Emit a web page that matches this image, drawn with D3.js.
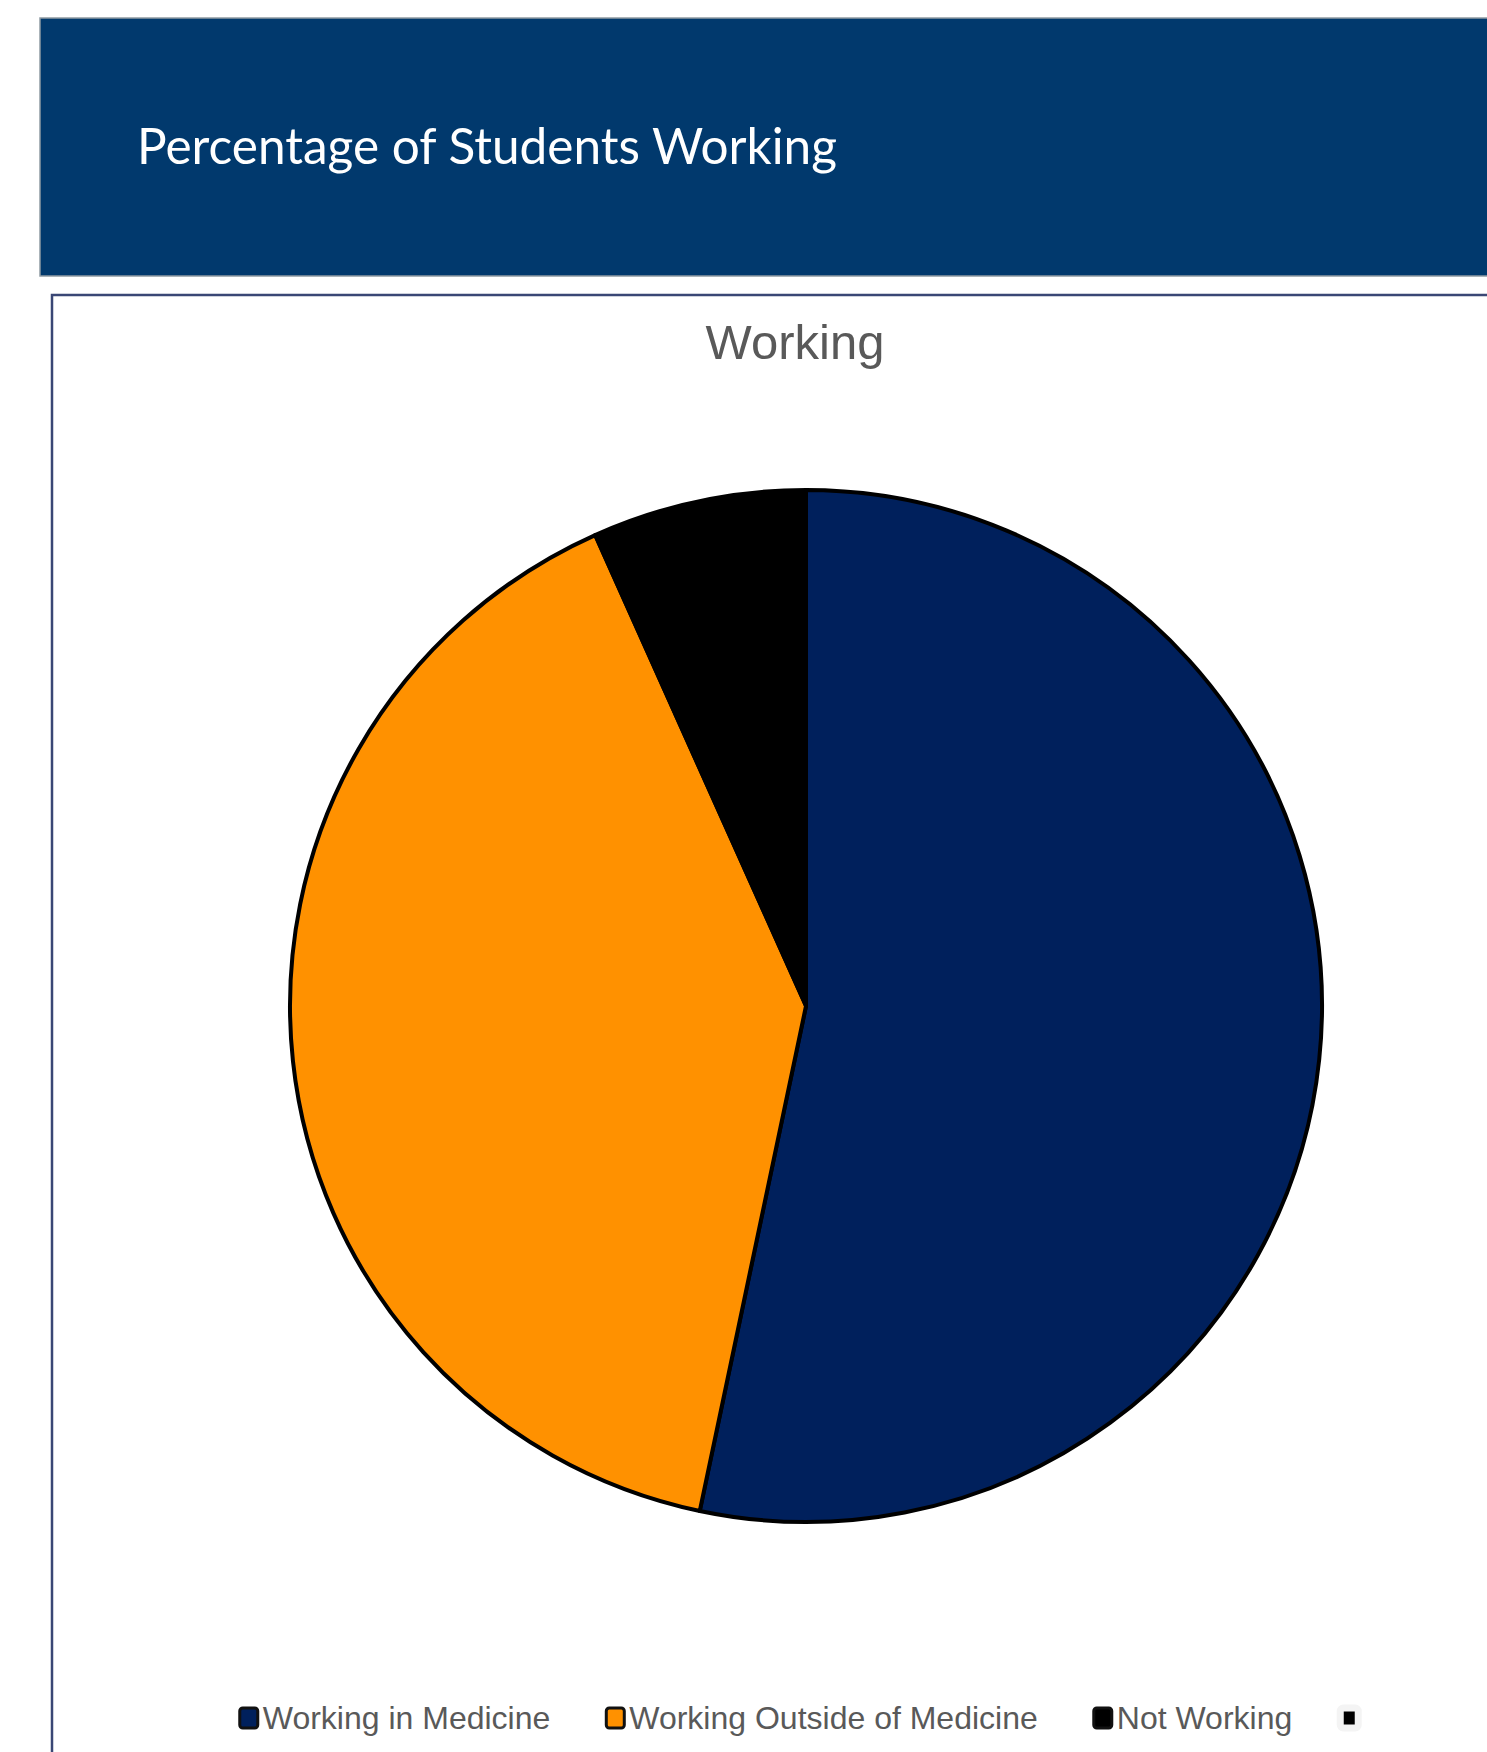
<!DOCTYPE html>
<html>
<head>
<meta charset="utf-8">
<script src="https://cdn.jsdelivr.net/npm/d3@7"></script>
<style>
  html, body { margin: 0; padding: 0; background: #fff; }
  svg { display: block; }
</style>
</head>
<body>
<svg id="chart" width="1487" height="1752"></svg>
<script>
// Share of students by working status (percent)
const categories = ["Working in Medicine", "Working Outside of Medicine", "Not Working", ""];
const values = [53.3, 40.0, 6.7, 0];
const colors = ["#00205c", "#ff9100", "#000000", "#000000"];
const pageTitle = "Percentage of Students Working";
const chartTitle = "Working";

const svg = d3.select("#chart");
const W = 1487, H = 1752;

// Banner
svg.append("rect")
  .attr("x", 40).attr("y", 18).attr("width", W).attr("height", 258)
  .attr("fill", "#01396d").attr("stroke", "#8f9aa3").attr("stroke-width", 1.5);

svg.append("text")
  .attr("x", 137).attr("y", 164)
  .attr("font-family", "Lato, 'Open Sans', sans-serif")
  .attr("font-size", 50)
  .attr("fill", "#ffffff")
  .attr("textLength", 700)
  .attr("lengthAdjust", "spacingAndGlyphs")
  .text(pageTitle);

// Chart frame
svg.append("rect")
  .attr("x", 52).attr("y", 295).attr("width", W).attr("height", H)
  .attr("fill", "#ffffff").attr("stroke", "#3a4775").attr("stroke-width", 2.5);

svg.append("text")
  .attr("x", 795).attr("y", 359)
  .attr("text-anchor", "middle")
  .attr("font-family", "'Liberation Sans', Arial, sans-serif")
  .attr("font-size", 49)
  .attr("fill", "#595959")
  .text(chartTitle);

// Pie
const cx = 806, cy = 1006, r = 516;
const data = categories.map((c, i) => ({ name: c, value: values[i], color: colors[i] }));
const pie = d3.pie().sort(null).value(d => d.value);
const arc = d3.arc().innerRadius(0).outerRadius(r);

svg.append("g")
  .attr("transform", `translate(${cx},${cy})`)
  .selectAll("path")
  .data(pie(data).filter(d => d.data.value > 0))
  .join("path")
  .attr("d", arc)
  .attr("fill", d => d.data.color)
  .attr("stroke", "#000")
  .attr("stroke-width", 4)
  .attr("stroke-linejoin", "round");

// Legend: markers plus labels laid out left to right, centred under the pie
const legendY = 1718, box = 20, textGap = 4, itemGap = 56;
const lg = svg.append("g");
const items = lg.selectAll("g").data(data).join("g");
items.append("text")
  .attr("x", box + textGap).attr("y", 11)
  .attr("font-family", "'Liberation Sans', Arial, sans-serif")
  .attr("font-size", 32)
  .attr("fill", "#595959")
  .text(d => d.name);
items.insert("rect", "text")
  .attr("x", 1).attr("y", -box / 2)
  .attr("width", box - 2).attr("height", box)
  .attr("rx", 3)
  .attr("fill", d => d.color)
  .attr("stroke", (d, i) => i === 3 ? "#f4f4f4" : "#111")
  .attr("stroke-width", (d, i) => i === 3 ? 7 : 3);

let widths = [];
items.each(function () { widths.push(this.getBBox().width); });
const gaps = widths.map((w, i) => i === widths.length - 2 ? itemGap - 8 : itemGap);
const total = d3.sum(widths) + d3.sum(gaps.slice(0, -1));
let x0 = 798 - total / 2;
items.attr("transform", (d, i) => {
  const x = x0;
  x0 += widths[i] + gaps[i];
  return `translate(${x},${legendY})`;
});
</script>
</body>
</html>
